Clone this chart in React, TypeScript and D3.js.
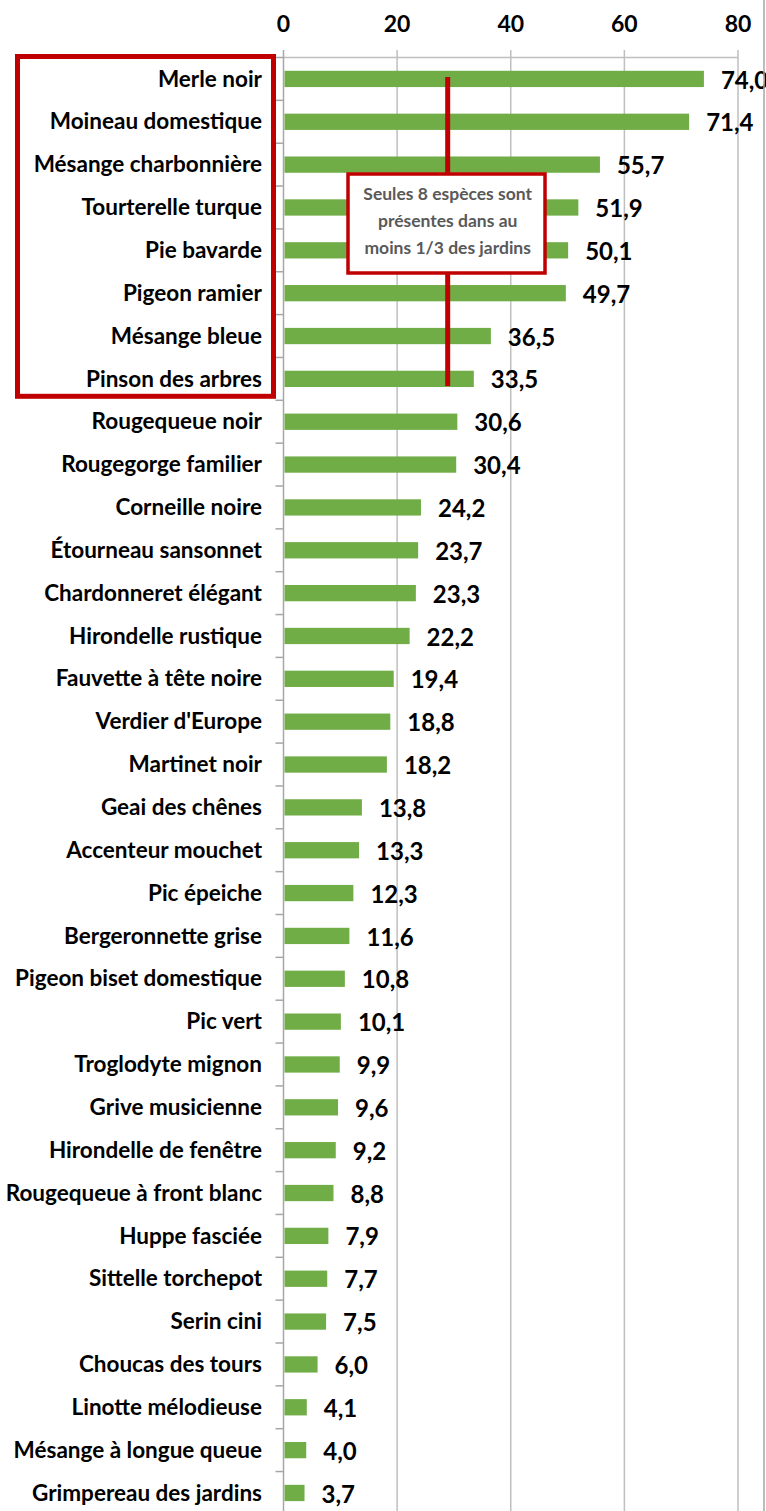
import React, { useEffect, useRef } from "react";
import * as d3 from "d3";

// Espèces d'oiseaux observées dans les jardins (% des jardins)
const species = [
  "Merle noir", "Moineau domestique", "Mésange charbonnière", "Tourterelle turque",
  "Pie bavarde", "Pigeon ramier", "Mésange bleue", "Pinson des arbres",
  "Rougequeue noir", "Rougegorge familier", "Corneille noire", "Étourneau sansonnet",
  "Chardonneret élégant", "Hirondelle rustique", "Fauvette à tête noire", "Verdier d'Europe",
  "Martinet noir", "Geai des chênes", "Accenteur mouchet", "Pic épeiche",
  "Bergeronnette grise", "Pigeon biset domestique", "Pic vert", "Troglodyte mignon",
  "Grive musicienne", "Hirondelle de fenêtre", "Rougequeue à front blanc", "Huppe fasciée",
  "Sittelle torchepot", "Serin cini", "Choucas des tours", "Linotte mélodieuse",
  "Mésange à longue queue", "Grimpereau des jardins",
];
const percents = [
  74.0, 71.4, 55.7, 51.9, 50.1, 49.7, 36.5, 33.5, 30.6, 30.4, 24.2, 23.7,
  23.3, 22.2, 19.4, 18.8, 18.2, 13.8, 13.3, 12.3, 11.6, 10.8, 10.1, 9.9,
  9.6, 9.2, 8.8, 7.9, 7.7, 7.5, 6.0, 4.1, 4.0, 3.7,
];
const xTicks = [0, 20, 40, 60, 80];
const noteLines = ["Seules 8 espèces sont", "présentes dans au", "moins 1/3 des jardins"];
const highlighted = 8;

export default function App() {
  const ref = useRef<SVGSVGElement>(null);

  useEffect(() => {
    const H = 1511;
    const svg = d3.select(ref.current);
    svg.selectAll("*").remove();

    const font = "Lato, 'DejaVu Sans', sans-serif";
    const x = d3.scaleLinear().domain([0, 80]).range([283.5, 738]);
    const y = d3.scaleBand<string>().domain(species).range([57.5, 57.5 + 34 * 42.85]).paddingInner(0.62).paddingOuter(0.31);
    const step = y.step();
    const top = 57.5;

    // grid
    svg.append("g").selectAll("line").data(xTicks.slice(1)).join("line")
      .attr("x1", d => x(d)).attr("x2", d => x(d))
      .attr("y1", 50).attr("y2", H)
      .attr("stroke", "#BFBFBF").attr("stroke-width", 1.5);

    // top axis line
    svg.append("line").attr("x1", x(0)).attr("x2", x(80)).attr("y1", top).attr("y2", top)
      .attr("stroke", "#BFBFBF").attr("stroke-width", 1.5);

    // left axis
    svg.append("line").attr("x1", x(0)).attr("x2", x(0)).attr("y1", 50).attr("y2", H)
      .attr("stroke", "#A6A6A6").attr("stroke-width", 1.5);
    svg.append("g").selectAll("line").data(d3.range(species.length + 1)).join("line")
      .attr("x1", x(0) - 8).attr("x2", x(0))
      .attr("y1", i => top + i * step).attr("y2", i => top + i * step)
      .attr("stroke", "#A6A6A6").attr("stroke-width", 1.5);

    // top tick labels
    svg.append("g").selectAll("text").data(xTicks).join("text")
      .attr("x", d => x(d)).attr("y", 32)
      .attr("text-anchor", "middle")
      .style("font-family", font).style("font-weight", "bold").style("font-size", "23px")
      .attr("fill", "#000")
      .text(d => d);

    // bars
    svg.append("g").selectAll("rect").data(species).join("rect")
      .attr("x", x(0) + 1)
      .attr("y", d => y(d)!)
      .attr("width", (d, i) => x(percents[i]) - x(0) - 1)
      .attr("height", y.bandwidth())
      .attr("fill", "#70AD47");

    // category labels
    svg.append("g").selectAll("text").data(species).join("text")
      .attr("x", 262)
      .attr("y", d => y(d)! + y.bandwidth() / 2)
      .attr("dy", "0.34em")
      .attr("text-anchor", "end")
      .style("font-family", font).style("font-weight", "bold").style("font-size", "22.5px")
      .attr("fill", "#000")
      .text(d => d);

    // value labels
    svg.append("g").selectAll("text").data(species).join("text")
      .attr("x", (d, i) => x(percents[i]) + 17)
      .attr("y", d => y(d)! + y.bandwidth() / 2)
      .attr("dy", "0.4em")
      .style("font-family", font).style("font-weight", "bold").style("font-size", "24px")
      .attr("fill", "#000")
      .text((d, i) => d3.format(".1f")(percents[i]).replace(".", ","));

    // right border
    svg.append("line").attr("x1", 764).attr("x2", 764).attr("y1", 0).attr("y2", H)
      .attr("stroke", "#A6A6A6").attr("stroke-width", 1.5);

    // highlight box round the first 8 labels
    svg.append("rect")
      .attr("x", 17.5).attr("y", 56.5)
      .attr("width", 256).attr("height", top + highlighted * step - 56.5 - 4)
      .attr("fill", "none").attr("stroke", "#C00000").attr("stroke-width", 5);

    // annotation
    const ax = x(28.9);
    svg.append("line").attr("x1", ax).attr("x2", ax)
      .attr("y1", 77).attr("y2", 386)
      .attr("stroke", "#C00000").attr("stroke-width", 5);
    svg.append("rect")
      .attr("x", 348).attr("y", 174).attr("width", 197).attr("height", 99)
      .attr("fill", "#fff").attr("stroke", "#C00000").attr("stroke-width", 3.5);
    svg.append("g").selectAll("text").data(noteLines).join("text")
      .attr("x", ax).attr("y", (d, i) => 200 + i * 27)
      .attr("text-anchor", "middle")
      .style("font-family", font).style("font-weight", "bold").style("font-size", "17.5px")
      .attr("fill", "#595959")
      .text(d => d);
  }, []);

  return (
    <svg ref={ref} width={766} height={1511}
      style={{ position: "absolute", left: 0, top: 0, background: "#fff" }} />
  );
}
